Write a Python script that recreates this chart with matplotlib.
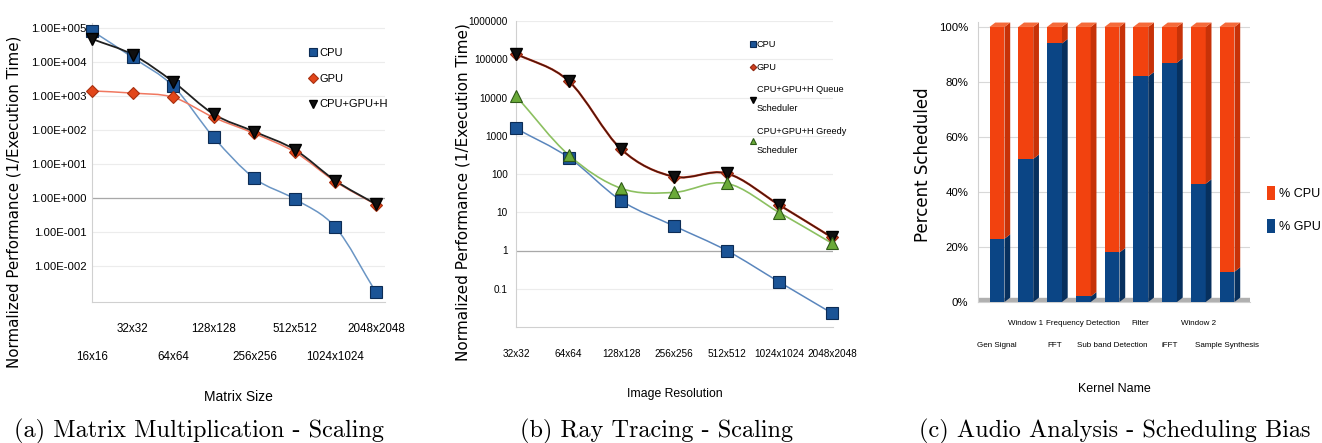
import numpy as np
import matplotlib
matplotlib.use('Agg')
import matplotlib.pyplot as plt
from matplotlib.path import Path
from matplotlib.patches import PathPatch, Polygon
from matplotlib.ticker import FixedLocator


# DATA
matrix_sizes = ['16x16', '32x32', '64x64', '128x128', '256x256',
                '512x512', '1024x1024', '2048x2048']
mm_cpu = [85000, 14000, 2000, 62, 3.9, 0.95, 0.14, 0.0017]
mm_gpu = [1450, 1250, 940, 240, 81, 23, 3.1, 0.65]
mm_hyb = [49000, 17000, 2700, 300, 92, 27, 3.3, 0.67]
mm_yticks = [1e5, 1e4, 1e3, 1e2, 1e1, 1e0, 1e-1, 1e-2]
mm_ylabels = ['1.00E+005', '1.00E+004', '1.00E+003', '1.00E+002',
              '1.00E+001', '1.00E+000', '1.00E-001', '1.00E-002']

image_res = ['32x32', '64x64', '128x128', '256x256', '512x512',
             '1024x1024', '2048x2048']
rt_cpu = [1550, 270, 20, 4.4, 1.0, 0.15, 0.023]
rt_gpu = [140000, 27000, 440, 85, 104, 15.5, 2.2]
rt_queue = [140000, 27000, 440, 85, 104, 15.5, 2.2]
rt_greedy = [11000, 315, 42, 33, 57, 9.8, 1.55]
rt_yticks = [1e6, 1e5, 1e4, 1e3, 1e2, 1e1, 1, 0.1]
rt_ylabels = ['1000000', '100000', '10000', '1000', '100', '10', '1', '0.1']

kernels = ['Gen Signal', 'Window 1', 'FFT', 'Frequency Detection',
           'Sub band Detection', 'Filter', 'iFFT', 'Window 2',
           'Sample Synthesis']
pct_gpu = [23, 52, 94, 2, 18, 82, 87, 43, 11]
pct_cpu = [100 - g for g in pct_gpu]
pct_ticks = [0, 20, 40, 60, 80, 100]

W, H = 1322, 443
SANS = ['Liberation Sans', 'DejaVu Sans']
plt.rcParams['font.family'] = SANS

fig = plt.figure(figsize=(W / 100, H / 100), dpi=100)


def px_axes(l, t, r, b):
    return fig.add_axes([l / W, 1 - b / H, (r - l) / W, (b - t) / H])


def smooth_line(ax, x, y, **kw):
    # cubic (catmull-rom) curve through the points, done in log space
    x = np.asarray(x, float)
    ly = np.log10(np.asarray(y, float))
    n = len(x)
    tx = np.gradient(x)
    ty = np.gradient(ly)
    verts = [(x[0], ly[0])]
    codes = [Path.MOVETO]
    for i in range(n - 1):
        verts += [(x[i] + tx[i] / 3, ly[i] + ty[i] / 3),
                  (x[i + 1] - tx[i + 1] / 3, ly[i + 1] - ty[i + 1] / 3),
                  (x[i + 1], ly[i + 1])]
        codes += [Path.CURVE4] * 3
    verts = [(vx, 10 ** vy) for vx, vy in verts]
    ax.add_patch(PathPatch(Path(verts, codes), fill=False,
                           transform=ax.transData, **kw))


def style_log_axes(ax):
    ax.set_yscale('log')
    ax.yaxis.set_minor_locator(FixedLocator([]))
    for s in ['top', 'right']:
        ax.spines[s].set_visible(False)
    for s in ['left', 'bottom']:
        ax.spines[s].set_color('#d0d0d0')
    ax.tick_params(length=0)
    ax.grid(axis='y', color='#ececec', lw=0.8)
    ax.axhline(1, color='#a8a8a8', lw=0.9, zorder=1)
    ax.set_axisbelow(True)


# (a) MATRIX MULTIPLICATION
ax = px_axes(92, 23, 385, 302)
style_log_axes(ax)
xa = np.arange(len(matrix_sizes))
smooth_line(ax, xa, mm_cpu, color='#6a95c4', lw=1.1, zorder=2)
smooth_line(ax, xa, mm_gpu, color='#f07860', lw=1.1, zorder=2)
smooth_line(ax, xa, mm_hyb, color='#202020', lw=1.3, zorder=3)
ax.plot(xa, mm_cpu, 's', ms=8, color='#1b5496', mec='#0c2c55', mew=0.8,
        label='CPU', clip_on=False, zorder=4)
ax.plot(xa, mm_gpu, 'D', ms=6, color='#e2461a', mec='#a83010', mew=0.8,
        label='GPU', clip_on=False, zorder=4)
ax.plot(xa, mm_hyb, 'v', ms=8, color='#101010', mec='#000000',
        label='CPU+GPU+H', clip_on=False, zorder=5)
ax.set_xlim(0, 7.22)
ax.set_ylim(10 ** -3.05, 10 ** 5.16)
ax.set_yticks(mm_yticks)
ax.set_yticklabels(mm_ylabels, fontsize=8.2)
ax.set_xticks(xa)
ax.set_xticklabels(matrix_sizes, fontsize=8.4)
for i, tick in enumerate(ax.xaxis.get_major_ticks()):
    tick.set_pad(35 if i % 2 == 0 else 15)
ax.tick_params(axis='y', pad=4)
ax.set_xlabel('Matrix Size', fontsize=10, labelpad=20)
ax.set_ylabel('Normalized Performance (1/Execution Time)', fontsize=10.8,
              family='DejaVu Sans')
ax.yaxis.set_label_coords(-0.239, 0.36)
ax.legend(loc='upper left', bbox_to_anchor=(0.725, 0.925), frameon=False,
          fontsize=8, handlelength=0.7, handletextpad=0.25,
          labelspacing=1.4, borderaxespad=0, markerscale=0.8)
fig.text(199 / W, 1 - 431 / H, '(a) Matrix Multiplication - Scaling',
         family='cmr10', fontsize=17.5, ha='center', va='center')


# (b) RAY TRACING
ax = px_axes(516, 21, 833, 327)
style_log_axes(ax)
xb = np.arange(len(image_res))
smooth_line(ax, xb, rt_cpu, color='#5a86bd', lw=1.1, zorder=2)
smooth_line(ax, xb, rt_greedy, color='#8cc060', lw=1.2, zorder=2)
smooth_line(ax, xb, rt_gpu, color='#c03018', lw=1.6, zorder=3)
smooth_line(ax, xb, rt_queue, color='#301008', lw=1.0, alpha=0.8, zorder=3)
ax.plot(xb, rt_cpu, 's', ms=8.5, color='#1b5496', mec='#0c2c55', mew=0.8,
        label='CPU', clip_on=False, zorder=4)
ax.plot(xb, rt_gpu, 'D', ms=6, color='#d04020', mec='#902810', mew=0.8,
        label='GPU', clip_on=False, zorder=3)
ax.plot(xb, rt_queue, 'v', ms=9, color='#101010', mec='#000000',
        label='CPU+GPU+H Queue\nScheduler', clip_on=False, zorder=5)
ax.plot(xb, rt_greedy, '^', ms=8.5, color='#6aaa38', mec='#2f5a18', mew=0.8,
        label='CPU+GPU+H Greedy\nScheduler', clip_on=False, zorder=5)
ax.set_xlim(0, 6.02)
ax.set_ylim(1e-2, 1e6)
ax.set_yticks(rt_yticks)
ax.set_yticklabels(rt_ylabels, fontsize=7.2)
ax.set_xticks(xb)
ax.set_xticklabels(image_res, fontsize=7.2)
ax.tick_params(axis='x', pad=16)
ax.tick_params(axis='y', pad=6)
ax.set_xlabel('Image Resolution', fontsize=8.8, labelpad=21)
ax.set_ylabel('Normalized Performance (1/Execution Time)', fontsize=11,
              family='DejaVu Sans')
ax.yaxis.set_label_coords(-0.142, 0.44)
leg = ax.legend(loc='upper left', bbox_to_anchor=(0.728, 0.95), frameon=False,
                fontsize=6.6, handlelength=0.5, handletextpad=0.2,
                labelspacing=1.5, borderaxespad=0, markerscale=0.55)
for t in leg.get_texts():
    t.set_linespacing(2.4)
fig.text(657 / W, 1 - 431 / H, '(b) Ray Tracing - Scaling',
         family='cmr10', fontsize=17.5, ha='center', va='center')


# (c) AUDIO ANALYSIS
ax = px_axes(978, 22, 1250, 302)
xc = np.arange(len(kernels))
bw, dx, dy = 0.52, 0.2, 1.6
ax.axhspan(0, 1.5, color='#b0b0b0', zorder=1)
ax.bar(xc, pct_gpu, width=bw, color='#0b4585', label='% GPU', zorder=3)
ax.bar(xc, pct_cpu, width=bw, bottom=pct_gpu, color='#f2420f',
       label='% CPU', zorder=3)
# side and top faces for the 3d look
for x0, g in zip(xc + bw / 2, pct_gpu):
    ax.add_patch(Polygon([(x0, 0), (x0 + dx, dy), (x0 + dx, g + dy), (x0, g)],
                         closed=True, color='#07305e', zorder=3, lw=0))
    ax.add_patch(Polygon([(x0, g), (x0 + dx, g + dy), (x0 + dx, 100 + dy),
                          (x0, 100)], closed=True, color='#c73208', zorder=3,
                         lw=0))
    ax.add_patch(Polygon([(x0 - bw, 100), (x0, 100), (x0 + dx, 100 + dy),
                          (x0 - bw + dx, 100 + dy)], closed=True,
                         color='#f56a3a', zorder=3, lw=0, clip_on=False))
ax.set_xlim(-0.66, 8.8)
ax.set_ylim(0, 101.8)
ax.set_yticks(pct_ticks)
ax.set_yticklabels(['%d%%' % p for p in pct_ticks], fontsize=8.2)
ax.set_xticks(xc)
ax.set_xticklabels(kernels, fontsize=5.8)
for i, tick in enumerate(ax.xaxis.get_major_ticks()):
    tick.set_pad(29 if i % 2 == 0 else 13)
ax.tick_params(length=0)
ax.tick_params(axis='y', pad=7)
for s in ['top', 'right']:
    ax.spines[s].set_visible(False)
for s in ['left', 'bottom']:
    ax.spines[s].set_color('#d0d0d0')
ax.grid(axis='y', color='#d8d8d8', lw=0.8)
ax.set_axisbelow(True)
ax.set_xlabel('Kernel Name', fontsize=9, labelpad=24)
ax.set_ylabel('Percent Scheduled', fontsize=12, family='DejaVu Sans')
ax.yaxis.set_label_coords(-0.169, 0.49)
h, l = ax.get_legend_handles_labels()
ax.legend(h[::-1], l[::-1], loc='center left', bbox_to_anchor=(1.044, 0.33),
          frameon=False, fontsize=9, handlelength=0.65, handleheight=1.3,
          handletextpad=0.3, labelspacing=1.5, borderaxespad=0)
fig.text(1115 / W, 1 - 431 / H, '(c) Audio Analysis - Scheduling Bias',
         family='cmr10', fontsize=17.5, ha='center', va='center')

fig.savefig('out.png', dpi=100)
